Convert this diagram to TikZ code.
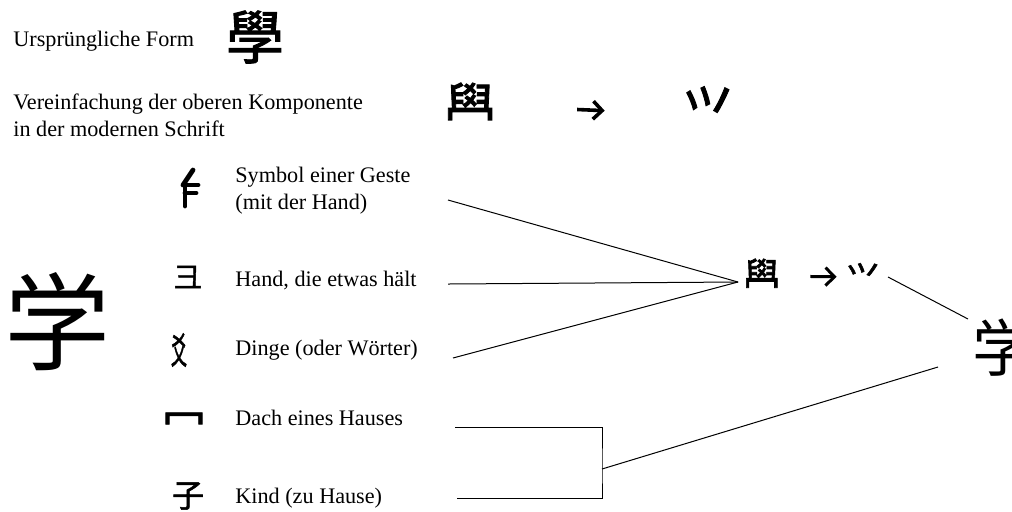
\documentclass[tikz,border=0pt]{standalone}
\usepackage{fontspec}
\setmainfont{Liberation Serif}
\newfontfamily\cjk{Noto Sans CJK TC}
\newfontfamily\cjkfett{Noto Sans CJK TC}[FakeBold=1.6]
\usetikzlibrary{arrows.meta}

\begin{document}
\begin{tikzpicture}[x=0.5pt,y=-0.5pt,
  lbl/.style={anchor=west,inner sep=0pt,align=left,font=\fontsize{11.1}{13.5}\selectfont},
  glyph/.style={inner sep=0pt,font=\cjkfett\fontsize{#1}{#1}\selectfont},
  glyph/.default=14,
  gross/.style={inner sep=0pt,font=\cjk\fontsize{#1}{#1}\selectfont},
  strich/.style={line width=2.4pt,line cap=round},
  link/.style={line width=0.5pt},
  pfeil/.style={-{Straight Barb[length=4.5pt,width=9pt]},line width=1.8pt}]
  \useasboundingbox (0,0) rectangle (1012,511);

  % kopfzeilen
  \node[lbl] (urform) at (13,41) {Ursprüngliche Form};
  \node[glyph=29] (xueAlt) at (255,37) {學};
  \node[lbl] (vereinf) at (13,115) {Vereinfachung der oberen Komponente\\in der modernen Schrift};
  \node[glyph=19,xscale=1.35,yscale=1.7] (obenA) at (470,105) {𦥯};
  \node[glyph=25,yscale=1.4] (obenB) at (708,115) {⺍};
  \draw[pfeil,shorten <=40.5pt,shorten >=39pt] (obenA) -- (obenB);

  % komponenten
  \node[gross=53] (xueNeu) at (57,322) {学};
  \node[inner sep=0pt,minimum width=8pt,minimum height=18pt] (geste) at (190,188) {};
  \draw[strich] (183,185) -- (193,170);
  \draw[strich] (185,185) -- (198,185) (185,193) -- (196,193) (185,185) -- (185,206);
  \node[glyph=14] (hand) at (188,277) {彐};
  \node[glyph=16,xscale=0.5,yscale=1.15] (dinge) at (179,350) {爻};
  \node[glyph=22] (dach) at (184,425) {冖};
  \node[glyph=16] (kind) at (188,496) {子};
  \node[lbl] (tGeste) at (235,191) {Symbol einer Geste\\(mit der Hand)};
  \node[lbl] (tHand) at (235,280) {Hand, die etwas hält};
  \node[lbl] (tDinge) at (235,350) {Dinge (oder Wörter)};
  \node[lbl] (tDach) at (235,418) {Dach eines Hauses};
  \node[lbl] (tKind) at (235,498) {Kind (zu Hause)};

  % rechte seite
  \node[glyph=14,xscale=1.3,yscale=1.8,anchor=west] (mitteA) at (743,276) {𦥯};
  \node[glyph=17] (mitteB) at (863,277) {⺍};
  \draw[pfeil,line width=1.5pt,shorten <=15pt,shorten >=4.5pt] (mitteA) -- (mitteB);
  \node[gross=31] (xueRechts) at (1003,348) {学};

  % verbindungen
  \coordinate (spitze) at (738,282);
  \coordinate (ecke) at (602,469);
  \coordinate (aGeste) at (448,200);
  \coordinate (aHand) at (448,284);
  \coordinate (aDinge) at (453,358);
  \coordinate (aDach) at (455,427);
  \coordinate (aKind) at (457,498);
  \coordinate (bOben) at (888,277);
  \coordinate (bUnten) at (938,367);
  \draw[link] (aGeste) -- (spitze);
  \draw[link] (aHand) -- (spitze);
  \draw[link] (aDinge) -- (spitze);
  \draw[link] (aDach) -| (ecke) |- (aKind);
  \draw[link] (ecke) -- (bUnten);
  \draw[link] (bOben) -- (968,319);
\end{tikzpicture}
\end{document}
